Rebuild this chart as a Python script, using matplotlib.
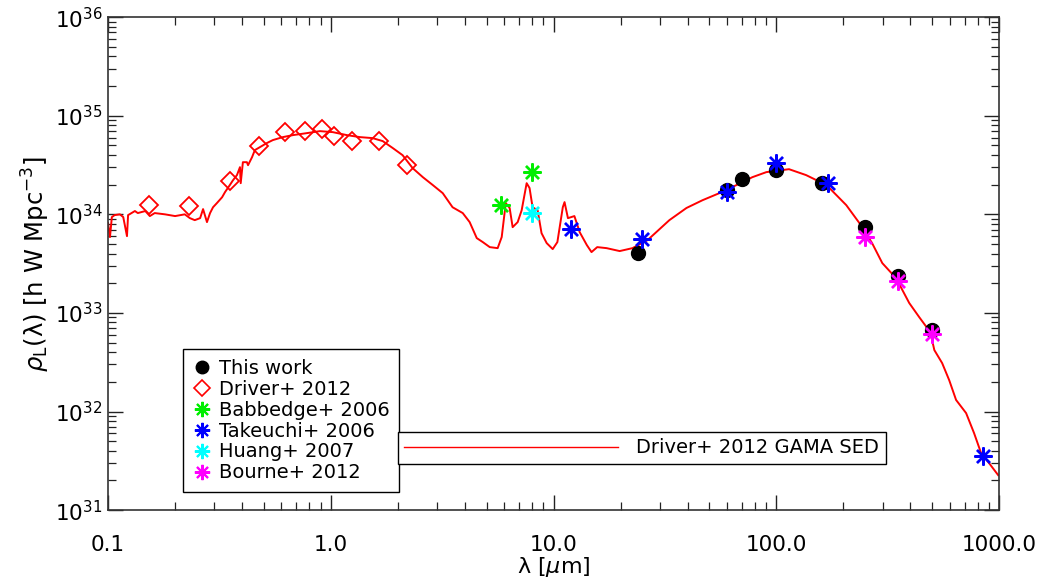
import matplotlib
matplotlib.use("Agg")
import matplotlib.pyplot as plt
from matplotlib.lines import Line2D
from matplotlib.ticker import FixedLocator, FixedFormatter, LogLocator, NullFormatter

# GAMA SED template (wavelength in micron, rho_L in h W Mpc^-3)
sed_wave = [0.100, 0.102, 0.104, 0.107, 0.113, 0.117, 0.1216, 0.123, 0.132, 0.136,
            0.147, 0.154, 0.162, 0.180, 0.200, 0.221, 0.233, 0.245, 0.259, 0.267,
            0.278, 0.287, 0.296, 0.308, 0.325, 0.335, 0.352, 0.364, 0.379, 0.391,
            0.394, 0.403, 0.420, 0.425, 0.443, 0.456, 0.481, 0.516, 0.549, 0.609,
            0.676, 0.780, 0.893, 1.02, 1.18, 1.35, 1.54, 1.71, 1.90, 2.10,
            2.33, 2.59, 2.87, 3.18, 3.52, 3.91, 4.20, 4.52, 4.81, 5.17,
            5.61, 5.85, 6.10, 6.35, 6.55, 6.90, 7.19, 7.57, 7.80, 8.05,
            8.48, 8.83, 9.31, 9.91, 10.4, 11.0, 11.2, 11.6, 12.4, 13.1,
            14.1, 14.8, 15.7, 17.3, 19.8, 22.6, 26.4, 33.1, 39.5, 46.6,
            55.5, 66.2, 78.0, 90.2, 114, 136, 168, 206, 236, 269,
            299, 345, 395, 438, 491, 512, 555, 597, 641, 711,
            772, 830, 901, 991]
sed_rho = [8.15e33, 5.88e33, 9.38e33, 9.82e33, 1.00e34, 9.38e33, 6.01e33, 9.82e33, 1.08e34, 1.03e34,
           1.08e34, 9.60e33, 1.03e34, 1.00e34, 9.60e33, 1.00e34, 9.15e33, 8.73e33, 9.15e33, 1.13e34,
           8.34e33, 1.03e34, 1.18e34, 1.30e34, 1.49e34, 1.68e34, 1.98e34, 2.22e34, 2.50e34, 3.01e34,
           2.07e34, 3.38e34, 3.38e34, 3.15e34, 3.80e34, 4.48e34, 4.81e34, 5.28e34, 5.66e34, 6.07e34,
           6.36e34, 6.66e34, 6.98e34, 6.82e34, 6.36e34, 6.07e34, 5.93e34, 5.53e34, 4.69e34, 3.98e34,
           2.94e34, 2.38e34, 1.98e34, 1.64e34, 1.18e34, 1.03e34, 8.34e33, 5.74e33, 5.23e33, 4.65e33,
           4.54e33, 5.88e33, 1.30e34, 1.16e34, 7.41e33, 8.34e33, 1.10e34, 2.07e34, 1.85e34, 1.18e34,
           1.10e34, 6.44e33, 5.11e33, 4.44e33, 5.23e33, 1.18e34, 1.33e34, 9.15e33, 9.60e33, 6.59e33,
           4.88e33, 4.14e33, 4.65e33, 4.54e33, 4.24e33, 4.54e33, 5.47e33, 8.73e33, 1.16e34, 1.39e34,
           1.64e34, 1.98e34, 2.38e34, 2.68e34, 2.87e34, 2.50e34, 1.98e34, 1.24e34, 8.15e33, 5.11e33,
           3.20e33, 2.25e33, 1.26e33, 9.06e32, 6.38e32, 4.20e32, 3.10e32, 2.08e32, 1.31e32, 9.64e31,
           6.04e31, 3.79e31, 3.00e31, 2.26e31]

# this work
tw_wave = [24, 60, 70, 100, 160, 250, 350, 500]
tw_rho = [4.04e33, 1.76e34, 2.28e34, 2.80e34, 2.07e34, 7.4e33, 2.36e33, 6.7e32]

# Driver+ 2012 GAMA bands
dr_wave = [0.153, 0.231, 0.354, 0.477, 0.623, 0.763, 0.913, 1.03, 1.25, 1.65, 2.2]
dr_rho = [1.24e34, 1.21e34, 2.17e34, 4.9e34, 6.82e34, 6.98e34, 7.31e34, 6.21e34, 5.53e34, 5.53e34, 3.15e34]

bab_wave = [5.8, 8.0]
bab_rho = [1.24e34, 2.68e34]

tak_wave = [12, 25, 60, 100, 170, 850]
tak_rho = [7.1e33, 5.6e33, 1.68e34, 3.3e34, 2.07e34, 3.53e31]

hua_wave = [8.0]
hua_rho = [1.03e34]

bou_wave = [250, 350, 500]
bou_rho = [5.9e33, 2.09e33, 6.1e32]

xticks = [0.1, 1.0, 10.0, 100.0, 1000.0]
xticklabels = ['0.1', '1.0', '10.0', '100.0', '1000.0']

star = (8, 2, 0)

plt.rcParams['font.family'] = 'DejaVu Sans'
fig = plt.figure(figsize=(10.39, 5.81), dpi=100)
ax = fig.add_axes([0.104, 0.122, 0.8576, 0.8485])

ax.plot(sed_wave, sed_rho, '-', color='red', lw=1.4, zorder=2)
ax.plot(dr_wave, dr_rho, 'D', ms=9, mfc='none', mec='red', mew=1.3, zorder=3)
ax.plot(tw_wave, tw_rho, 'o', ms=10, color='black', zorder=3)
ax.plot(bab_wave, bab_rho, marker=star, ls='none', ms=13, color='#00ee00', mew=1.7, zorder=4)
ax.plot(tak_wave, tak_rho, marker=star, ls='none', ms=13, color='#0000ff', mew=1.7, zorder=4)
ax.plot(hua_wave, hua_rho, marker=star, ls='none', ms=13, color='#00ffff', mew=1.7, zorder=4)
ax.plot(bou_wave, bou_rho, marker=star, ls='none', ms=13, color='#ff00ff', mew=1.7, zorder=4)

ax.set_xscale('log')
ax.set_yscale('log')
ax.set_xlim(0.1, 1000)
ax.set_ylim(1e31, 1e36)

ax.xaxis.set_major_locator(FixedLocator(xticks))
ax.xaxis.set_major_formatter(FixedFormatter(xticklabels))
ax.xaxis.set_minor_locator(LogLocator(base=10, subs=range(2, 10)))
ax.xaxis.set_minor_formatter(NullFormatter())
ax.yaxis.set_major_locator(LogLocator(base=10, numticks=10))
ax.yaxis.set_minor_locator(LogLocator(base=10, subs=range(2, 10), numticks=10))
ax.yaxis.set_minor_formatter(NullFormatter())

ax.tick_params(which='both', direction='in', top=True, right=True, colors='#222222')
ax.tick_params(which='major', length=11, width=1.0, labelsize=15.5, labelcolor='black')
ax.tick_params(which='minor', length=5.5, width=0.9)
ax.tick_params(axis='x', which='major', pad=18)
ax.tick_params(axis='y', which='major', pad=4)
for s in ax.spines.values():
    s.set_color('#333333')
    s.set_linewidth(1.2)

ax.set_xlabel(r'λ [$\mu$m]', fontsize=16)
ax.set_ylabel(r'$\rho_{\rm L}$(λ) [h W Mpc$^{-3}$]', fontsize=17.5)
ax.xaxis.set_label_coords(0.5, -0.092)
ax.yaxis.set_label_coords(-0.063, 0.5)

# symbol legend
handles = [
    Line2D([], [], marker='o', ls='none', color='black', ms=9),
    Line2D([], [], marker='D', ls='none', mfc='none', mec='red', mew=1.2, ms=8),
    Line2D([], [], marker=star, ls='none', color='#00ee00', mew=1.5, ms=11),
    Line2D([], [], marker=star, ls='none', color='#0000ff', mew=1.5, ms=11),
    Line2D([], [], marker=star, ls='none', color='#00ffff', mew=1.5, ms=11),
    Line2D([], [], marker=star, ls='none', color='#ff00ff', mew=1.5, ms=11),
]
names = ['This work', 'Driver+ 2012', 'Babbedge+ 2006', 'Takeuchi+ 2006',
         'Huang+ 2007', 'Bourne+ 2012']
leg1 = ax.legend(handles, names, loc='lower left', bbox_to_anchor=(0.084, 0.0365),
                 borderaxespad=0, fontsize=14, frameon=True, fancybox=False,
                 edgecolor='black', framealpha=1, handlelength=1.0,
                 handletextpad=0.35, labelspacing=0.1, borderpad=0.5)
leg1.get_frame().set_linewidth(1.0)
ax.add_artist(leg1)

# line legend
sed_handle = Line2D([], [], color='red', lw=1.0)
leg2 = ax.legend([sed_handle], ['Driver+ 2012 GAMA SED'], loc='lower left',
                 bbox_to_anchor=(0.325, 0.093), borderaxespad=0, fontsize=14,
                 frameon=True, fancybox=False, edgecolor='black', framealpha=1,
                 handlelength=11.0, handletextpad=0.9, borderpad=0.35)
leg2.get_frame().set_linewidth(1.0)

fig.savefig('out.png', dpi=100)
